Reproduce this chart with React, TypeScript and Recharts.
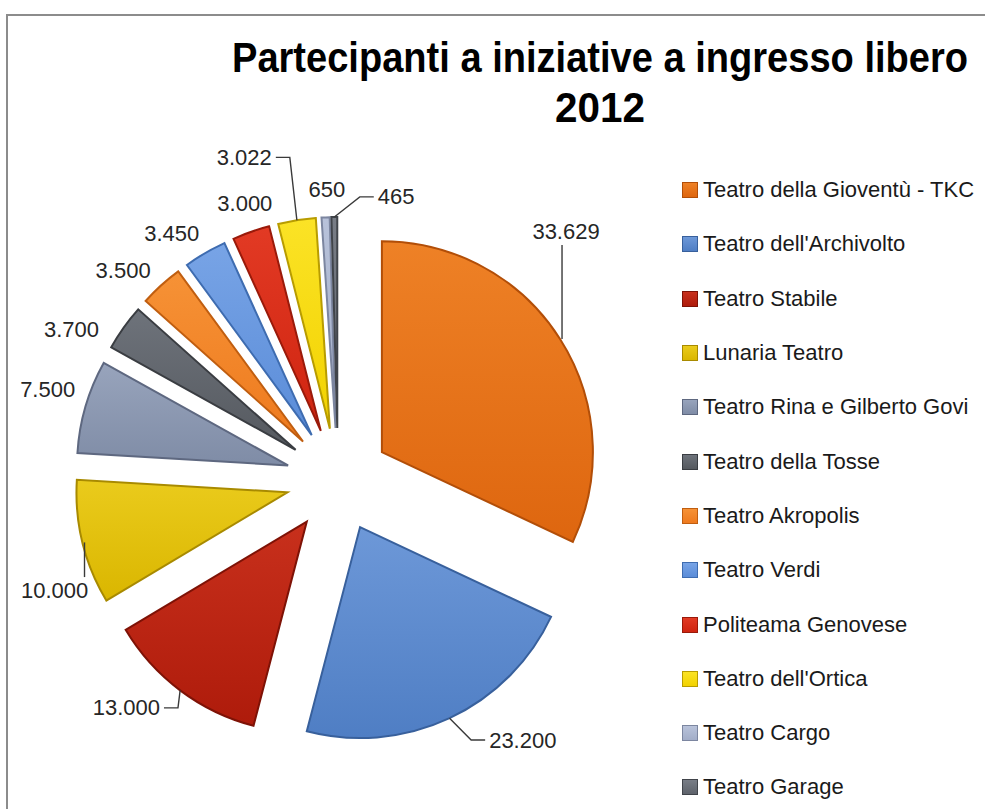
import { Legend, Pie, PieChart, Sector, Cell } from 'recharts'

// Partecipanti a iniziative a ingresso libero, 2012 — exploded pie.

const theatres = [
  'Teatro della Gioventù - TKC',
  "Teatro dell'Archivolto",
  'Teatro Stabile',
  'Lunaria Teatro',
  'Teatro Rina e Gilberto Govi',
  'Teatro della Tosse',
  'Teatro Akropolis',
  'Teatro Verdi',
  'Politeama Genovese',
  "Teatro dell'Ortica",
  'Teatro Cargo',
  'Teatro Garage',
]

const participants = [33629, 23200, 13000, 10000, 7500, 3700, 3500, 3450, 3000, 3022, 650, 465]

const sliceColors = [
  '#DE660F', '#4F7EC4', '#AE1B0B', '#DAB600', '#7F8CA6', '#55595F',
  '#EE7A1E', '#5A8CD8', '#CF2410', '#F2D200', '#A2ADC8', '#5E636B',
]
const lightColors = [
  '#EE8126', '#6D98D8', '#C8301C', '#EACB1C', '#98A4BC', '#6E737B',
  '#F69236', '#78A4E6', '#E23A24', '#FBE326', '#B8C2DA', '#787D86',
]
const edgeColors = [
  '#B24E08', '#38609C', '#7E1206', '#A88A00', '#5E6880', '#3A3D42',
  '#C05E10', '#3E6CB0', '#9A1A0A', '#B89C00', '#7C86A0', '#40444A',
]

// label placement (Excel best-fit): angular nudge (deg, clockwise) and distance from pie centre
const labelShift = [-15, -10.3, 6, -7.5, 1, -6, -3.5, -3.7, 0.7, -7.2, 0.5, 12.4]
const labelDist = [337, 319, 311, 304, 304, 306, 300, 297, 292, 336, 291, 289]
const hasLeader = [true, true, true, true, false, false, false, false, false, true, false, true]

const data = theatres.map((name, i) => ({ name, value: participants[i] }))

const EXPLODE = 52
const RAD = Math.PI / 180
const LABEL_FONT = 22

const fmt = (v: number) => String(v).replace(/\B(?=(\d{3})+(?!\d))/g, '.')

function ExplodedSlice(props: any) {
  const { cx, cy, midAngle, index } = props
  const dx = EXPLODE * Math.cos(-midAngle * RAD)
  const dy = EXPLODE * Math.sin(-midAngle * RAD)
  const gid = `slice-grad-${index}`
  return (
    <g>
      <defs>
        <linearGradient id={gid} x1="0" y1="0" x2="0" y2="1">
          <stop offset="0%" stopColor={lightColors[index]} />
          <stop offset="100%" stopColor={sliceColors[index]} />
        </linearGradient>
      </defs>
      <Sector
        {...props}
        cx={cx + dx}
        cy={cy + dy}
        fill={`url(#${gid})`}
        stroke={edgeColors[index]}
        strokeWidth={2}
      />
    </g>
  )
}

function SliceLabel(props: any) {
  const { cx, cy, midAngle, outerRadius, index, value } = props
  const ang = (midAngle - labelShift[index]) * RAD
  const lx = cx + labelDist[index] * Math.cos(ang)
  const ly = cy - labelDist[index] * Math.sin(ang)
  const text = fmt(value)
  const digits = text.replace(/\./g, '').length
  const hw = (LABEL_FONT * (digits * 0.556 + (text.length - digits) * 0.278)) / 2

  let leader = null
  if (hasLeader[index]) {
    const r = outerRadius + EXPLODE
    const px = cx + r * Math.cos(midAngle * RAD)
    const py = cy - r * Math.sin(midAngle * RAD)
    const dx = lx - px
    const dy = ly - py
    let pts: number[][]
    if (Math.abs(dy) > 1.5 * Math.abs(dx)) {
      const ex = Math.min(Math.max(px + 2, lx - hw), lx + hw)
      const ey = dy < 0 ? ly + 13 : ly - 13
      pts = [[px + 2, py], [ex, ey]]
    } else {
      const tx = dx > 0 ? lx - hw - 4 : lx + hw + 4
      const ex = tx + (dx > 0 ? -14 : 14)
      pts = [[px, py], [ex, ly], [tx, ly]]
    }
    leader = (
      <polyline
        points={pts.map((p) => p.join(',')).join(' ')}
        fill="none"
        stroke="#3a3a3a"
        strokeWidth={1.4}
      />
    )
  }

  return (
    <g>
      {leader}
      <text
        x={lx}
        y={ly}
        textAnchor="middle"
        dominantBaseline="central"
        fontSize={LABEL_FONT}
        fontFamily="'Liberation Sans', Arial, sans-serif"
        fill="#262626"
      >
        {text}
      </text>
    </g>
  )
}

function LegendList() {
  return (
    <div>
      {theatres.map((name, i) => (
        <div key={name} style={{ height: 54.3, display: 'flex', alignItems: 'center' }}>
          <span
            style={{
              display: 'inline-block',
              width: 14,
              height: 14,
              background: `linear-gradient(${lightColors[i]}, ${sliceColors[i]})`,
              border: `1px solid ${edgeColors[i]}`,
              marginLeft: 6,
              marginRight: 5,
            }}
          />
          <span
            style={{
              fontSize: 22,
              color: '#1a1a1a',
              fontFamily: "'Liberation Sans', Arial, sans-serif",
              whiteSpace: 'nowrap',
            }}
          >
            {name}
          </span>
        </div>
      ))}
    </div>
  )
}

export default function App() {
  const W = 985
  const H = 809
  return (
    <div style={{ position: 'fixed', left: 0, top: 0, width: W, height: H, overflow: 'hidden', background: '#fff' }}>
      <div style={{ position: 'absolute', left: 0, top: 0 }}>
        <PieChart width={W} height={H} margin={{ top: 0, right: 0, bottom: 0, left: 0 }}>
          <Pie
            data={data}
            dataKey="value"
            nameKey="name"
            cx={338}
            cy={480}
            outerRadius={211}
            startAngle={90}
            endAngle={-270}
            stroke="none"
            shape={ExplodedSlice}
            label={SliceLabel}
            labelLine={false}
            isAnimationActive={false}
          >
            {data.map((d, i) => (
              <Cell key={d.name} fill={sliceColors[i]} />
            ))}
          </Pie>
          <Legend
            layout="vertical"
            align="right"
            verticalAlign="top"
            content={LegendList}
            wrapperStyle={{ left: 676, top: 163, right: 'auto', width: 309 }}
          />
        </PieChart>
      </div>
      <svg
        width={W}
        height={H}
        style={{ position: 'absolute', left: 0, top: 0, pointerEvents: 'none' }}
      >
        <path d={`M7 ${H} V15 H${W}`} fill="none" stroke="#8c8c8c" strokeWidth={2} />
        <g transform="translate(600 72) scale(1 1.3)">
          <text
            x={0}
            y={0}
            textAnchor="middle"
            fontSize={32}
            fontWeight="bold"
            fontFamily="'Liberation Sans Narrow', 'Liberation Sans', Arial, sans-serif"
            textLength={736}
            lengthAdjust="spacingAndGlyphs"
            fill="#000"
          >
            Partecipanti a iniziative a ingresso libero
          </text>
        </g>
        <g transform="translate(600 122) scale(1 1.3)">
          <text
            x={0}
            y={0}
            textAnchor="middle"
            fontSize={32}
            fontWeight="bold"
            fontFamily="'Liberation Sans Narrow', 'Liberation Sans', Arial, sans-serif"
            textLength={90}
            lengthAdjust="spacingAndGlyphs"
            fill="#000"
          >
            2012
          </text>
        </g>
      </svg>
    </div>
  )
}
